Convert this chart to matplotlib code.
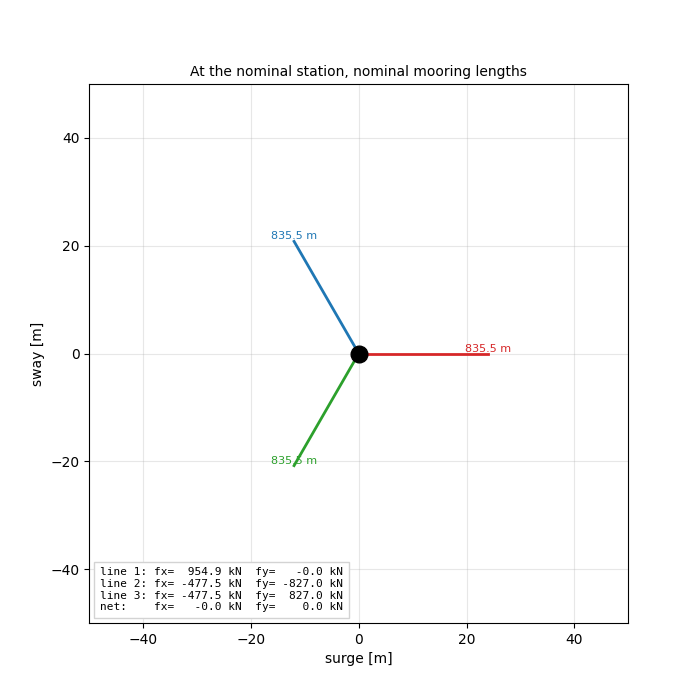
import numpy as np
import matplotlib
matplotlib.use('Agg')
import matplotlib.pyplot as plt

# fairlead -> anchor ends (surge, sway) in m
line_names = ['line 1', 'line 2', 'line 3']
end_x = [24.0, -12.0, -12.0]
end_y = [0.0, -20.8, 20.8]
lengths = [835.5, 835.5, 835.5]
colors = ['tab:red', 'tab:green', 'tab:blue']
fx = [954.9, -477.5, -477.5]
fy = [-0.0, -827.0, 827.0]
net_fx = -0.0
net_fy = 0.0

fig, ax = plt.subplots(figsize=(7, 7), dpi=100)

for i in range(len(end_x)):
    ax.plot([0, end_x[i]], [0, end_y[i]], color=colors[i], lw=2)
    ax.text(end_x[i], end_y[i], '%.1f m' % lengths[i], color=colors[i],
            fontsize=8, ha='center', va='bottom')

ax.plot(0, 0, 'o', color='black', markersize=12, zorder=5)

txt = []
for i in range(len(fx)):
    txt.append('%s: fx=%7.1f kN  fy=%7.1f kN' % (line_names[i], fx[i], fy[i]))
txt.append('net:    fx=%7.1f kN  fy=%7.1f kN' % (net_fx, net_fy))
ax.text(0.02, 0.02, '\n'.join(txt), transform=ax.transAxes, family='monospace',
        fontsize=8, va='bottom', ha='left',
        bbox=dict(facecolor='white', edgecolor='lightgray', boxstyle='square,pad=0.5'))

ax.set_xlim(-50, 50)
ax.set_ylim(-50, 50)
ax.set_aspect('equal')
ax.grid(True, alpha=0.3)
ax.set_xlabel('surge [m]')
ax.set_ylabel('sway [m]')
ax.set_title('At the nominal station, nominal mooring lengths', fontsize=10)

plt.savefig('out.png')
